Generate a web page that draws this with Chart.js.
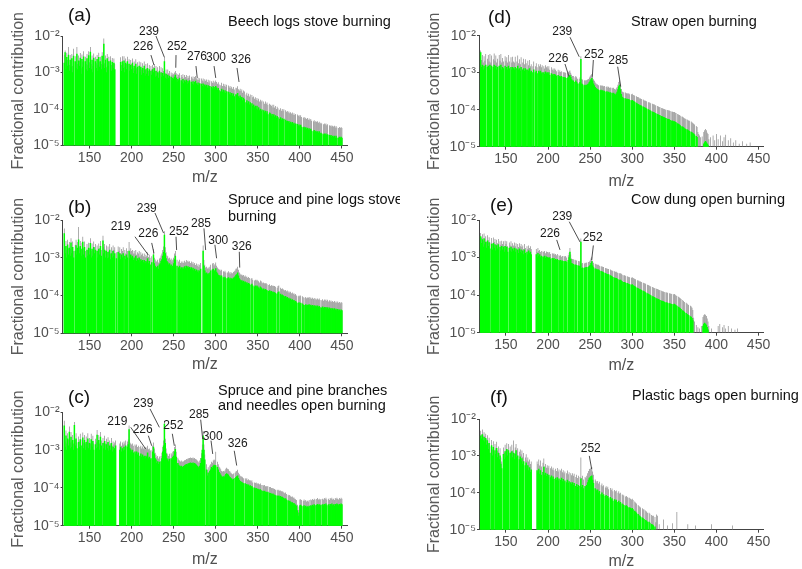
<!DOCTYPE html>
<html>
<head>
<meta charset="utf-8">
<script src="https://cdn.jsdelivr.net/npm/chart.js@4.4.1/dist/chart.umd.min.js"></script>
<style>
html,body{margin:0;padding:0;background:#fff;}
#wrap{position:relative;width:802px;height:569px;overflow:hidden;background:#fff;}
canvas{position:absolute;}
</style>
</head>
<body>
<div id="wrap"></div>
<script>
// ---------------- DATA ----------------
const mzStart = 120;               // first m/z of every series (unit step)
const xTickValues = [150, 200, 250, 300, 350, 400, 450];
const yTickValues = [1e-5, 1e-4, 1e-3, 1e-2];
const yTickLabels = ['10\u207B\u2075', '10\u207B\u2074', '10\u207B\u00B3', '10\u207B\u00B2'];

// (a) Beech logs stove burning
const beechMean = [
1.8e-3,3.5e-3,1.2e-3,2.6e-3,1.5e-3,3.0e-3,1.1e-3,2.2e-3,1.4e-3,2.4e-3,
1.0e-3,2.8e-3,null,2.0e-3,1.3e-3,3.2e-3,1.2e-3,2.1e-3,1.5e-3,2.5e-3,
9.0e-4,2.3e-3,1.4e-3,2.7e-3,null,2.0e-3,1.2e-3,2.4e-3,1.1e-3,2.9e-3,
1.3e-3,3.6e-3,1.2e-3,2.2e-3,1.0e-3,2.5e-3,null,2.0e-3,1.3e-3,2.3e-3,
1.1e-3,2.6e-3,1.4e-3,2.0e-3,1.2e-3,2.8e-3,1.6e-3,6.0e-3,1.3e-3,2.2e-3,
1.0e-3,2.4e-3,1.5e-3,2.0e-3,null,2.1e-3,1.1e-3,1.9e-3,1.3e-3,1.8e-3,
1.2e-3,null,null,null,null,null,null,1.9e-3,1.1e-3,2.0e-3,
1.3e-3,2.1e-3,1.0e-3,1.8e-3,1.2e-3,2.0e-3,null,1.7e-3,1.1e-3,1.6e-3,
1.2e-3,1.8e-3,9.5e-4,1.5e-3,1.1e-3,1.7e-3,9.0e-4,1.4e-3,null,1.5e-3,
1.0e-3,1.4e-3,8.5e-4,1.3e-3,9.5e-4,1.5e-3,8.0e-4,1.2e-3,9.0e-4,1.3e-3,
8.0e-4,1.2e-3,null,1.1e-3,8.5e-4,1.2e-3,1.0e-3,1.3e-3,7.5e-4,1.1e-3,
8.0e-4,1.0e-3,7.0e-4,1.1e-3,null,1.0e-3,7.5e-4,9.5e-4,8.0e-4,2.0e-3,
7.0e-4,9.0e-4,6.5e-4,8.5e-4,7.0e-4,8.0e-4,null,7.5e-4,6.0e-4,7.0e-4,
6.5e-4,7.5e-4,8.5e-4,7.0e-4,5.5e-4,6.5e-4,6.0e-4,7.0e-4,null,6.0e-4,
5.5e-4,6.5e-4,5.0e-4,6.0e-4,5.5e-4,6.2e-4,4.8e-4,5.8e-4,5.2e-4,6.0e-4,
null,5.5e-4,4.8e-4,5.6e-4,4.6e-4,5.4e-4,5.8e-4,5.0e-4,4.5e-4,5.2e-4,
4.4e-4,5.0e-4,null,4.8e-4,4.2e-4,4.9e-4,4.0e-4,4.6e-4,4.1e-4,4.5e-4,
3.8e-4,4.4e-4,3.7e-4,4.2e-4,null,4.0e-4,3.6e-4,4.1e-4,3.5e-4,3.9e-4,
4.2e-4,3.8e-4,3.3e-4,3.7e-4,3.2e-4,null,3.0e-4,3.5e-4,2.9e-4,3.3e-4,
2.8e-4,3.2e-4,2.7e-4,3.0e-4,null,2.9e-4,2.5e-4,2.8e-4,2.4e-4,2.7e-4,
2.3e-4,2.6e-4,2.2e-4,null,2.5e-4,2.4e-4,2.7e-4,2.2e-4,2.0e-4,2.3e-4,
1.9e-4,2.1e-4,1.7e-4,2.0e-4,1.8e-4,null,1.5e-4,1.7e-4,1.4e-4,1.6e-4,
1.3e-4,1.5e-4,null,1.4e-4,1.2e-4,1.3e-4,1.1e-4,1.2e-4,1.0e-4,1.2e-4,
9.5e-5,1.1e-4,9.0e-5,1.0e-4,8.7e-5,9.5e-5,null,9.0e-5,8.0e-5,8.8e-5,
7.5e-5,8.5e-5,7.0e-5,null,7.8e-5,7.5e-5,6.5e-5,7.2e-5,6.2e-5,7.0e-5,
6.0e-5,6.6e-5,5.6e-5,6.3e-5,5.8e-5,null,5.3e-5,5.8e-5,5.0e-5,5.5e-5,
4.8e-5,5.3e-5,null,5.0e-5,4.5e-5,4.7e-5,4.3e-5,4.6e-5,4.1e-5,4.4e-5,
4.0e-5,4.3e-5,3.8e-5,4.1e-5,3.7e-5,3.9e-5,null,3.8e-5,3.4e-5,3.7e-5,
3.3e-5,3.6e-5,3.2e-5,null,3.1e-5,3.2e-5,2.9e-5,3.1e-5,2.8e-5,3.0e-5,
2.7e-5,2.9e-5,2.6e-5,2.8e-5,2.5e-5,null,2.4e-5,2.6e-5,2.3e-5,2.5e-5,
2.3e-5,2.4e-5,2.2e-5,2.4e-5,2.1e-5,2.2e-5,2.1e-5,null,2.0e-5,2.1e-5,
2.0e-5,2.1e-5,1.9e-5,2.0e-5,null,1.9e-5,1.8e-5,1.9e-5,1.7e-5,1.8e-5,
1.7e-5,1.8e-5,1.6e-5,1.8e-5,1.6e-5,null,1.6e-5,1.7e-5,1.6e-5,1.7e-5,
1.6e-5];
const beechUpper = [
3.0e-3,4.0e-3,2.0e-3,3.5e-3,2.2e-3,5.0e-3,1.6e-3,3.0e-3,2.0e-3,3.2e-3,
1.5e-3,4.5e-3,null,2.8e-3,1.9e-3,5.0e-3,1.7e-3,2.9e-3,2.1e-3,3.4e-3,
1.3e-3,3.1e-3,2.0e-3,3.8e-3,null,2.7e-3,1.7e-3,3.2e-3,1.6e-3,3.8e-3,
1.9e-3,5.0e-3,1.7e-3,2.9e-3,1.5e-3,3.3e-3,null,2.7e-3,1.8e-3,3.0e-3,
1.6e-3,3.5e-3,2.0e-3,2.7e-3,1.7e-3,3.6e-3,2.2e-3,8.5e-3,1.8e-3,2.9e-3,
1.4e-3,3.2e-3,2.1e-3,2.7e-3,null,2.8e-3,1.6e-3,2.5e-3,1.8e-3,2.4e-3,
1.7e-3,null,null,null,null,null,null,2.6e-3,1.6e-3,2.8e-3,
1.8e-3,2.8e-3,1.4e-3,2.4e-3,1.7e-3,2.7e-3,null,2.3e-3,1.5e-3,2.2e-3,
1.7e-3,2.4e-3,1.3e-3,2.0e-3,1.5e-3,2.3e-3,1.3e-3,1.9e-3,null,2.0e-3,
1.4e-3,1.9e-3,1.2e-3,1.8e-3,1.3e-3,2.0e-3,1.1e-3,1.7e-3,1.3e-3,1.8e-3,
1.1e-3,1.6e-3,null,1.5e-3,1.2e-3,1.6e-3,1.4e-3,1.7e-3,1.1e-3,1.5e-3,
1.1e-3,1.4e-3,1.0e-3,1.5e-3,null,1.4e-3,1.0e-3,1.3e-3,1.1e-3,2.6e-3,
9.5e-4,1.2e-3,9.0e-4,1.2e-3,9.5e-4,1.1e-3,null,1.0e-3,8.5e-4,9.5e-4,
9.0e-4,1.0e-3,1.1e-3,9.5e-4,7.5e-4,9.0e-4,8.5e-4,9.5e-4,null,8.5e-4,
7.5e-4,9.0e-4,7.0e-4,8.5e-4,7.5e-4,8.5e-4,6.8e-4,8.0e-4,7.2e-4,8.3e-4,
null,7.6e-4,6.8e-4,7.8e-4,6.5e-4,7.5e-4,8.0e-4,7.0e-4,6.3e-4,7.2e-4,
6.2e-4,7.0e-4,null,6.8e-4,6.0e-4,6.9e-4,5.7e-4,6.5e-4,5.9e-4,6.4e-4,
5.5e-4,6.3e-4,5.3e-4,6.0e-4,null,5.8e-4,5.2e-4,5.9e-4,5.1e-4,5.6e-4,
6.0e-4,5.5e-4,4.9e-4,5.4e-4,4.7e-4,null,4.5e-4,5.2e-4,4.3e-4,4.9e-4,
4.3e-4,4.8e-4,4.1e-4,4.6e-4,null,4.4e-4,3.9e-4,4.3e-4,3.7e-4,4.1e-4,
3.6e-4,4.0e-4,3.4e-4,null,3.8e-4,3.7e-4,4.2e-4,3.5e-4,3.2e-4,3.6e-4,
3.1e-4,3.4e-4,2.8e-4,3.2e-4,3.0e-4,null,2.5e-4,2.8e-4,2.3e-4,2.6e-4,
2.2e-4,2.5e-4,null,2.4e-4,2.1e-4,2.2e-4,1.9e-4,2.1e-4,1.8e-4,2.0e-4,
1.7e-4,1.9e-4,1.6e-4,1.8e-4,1.6e-4,1.7e-4,null,1.6e-4,1.4e-4,1.6e-4,
1.4e-4,1.5e-4,1.3e-4,null,1.4e-4,1.3e-4,1.2e-4,1.3e-4,1.1e-4,1.3e-4,
1.1e-4,1.2e-4,1.0e-4,1.15e-4,1.05e-4,null,9.5e-5,1.05e-4,9.0e-5,1.0e-4,
9.0e-5,9.8e-5,null,9.2e-5,8.4e-5,8.8e-5,8.0e-5,8.6e-5,7.6e-5,8.2e-5,
7.5e-5,8.0e-5,7.0e-5,7.6e-5,6.9e-5,7.3e-5,null,7.1e-5,6.4e-5,6.9e-5,
6.2e-5,6.7e-5,6.0e-5,null,5.8e-5,6.0e-5,5.5e-5,5.8e-5,5.3e-5,5.7e-5,
5.1e-5,5.5e-5,4.9e-5,5.3e-5,4.8e-5,null,4.6e-5,4.9e-5,4.4e-5,4.7e-5,
4.4e-5,4.6e-5,4.2e-5,4.5e-5,4.0e-5,4.2e-5,4.0e-5,null,3.8e-5,4.0e-5,
3.8e-5,4.0e-5,3.6e-5,3.8e-5,null,3.6e-5,3.4e-5,3.6e-5,3.3e-5,3.5e-5,
3.3e-5,3.5e-5,3.1e-5,3.4e-5,3.1e-5,null,3.0e-5,3.2e-5,3.0e-5,3.2e-5,
3.0e-5];

// (b) Spruce and pine logs stove burning
const spruceLogsMean = [
4.4e-3,1.3e-3,2.0e-3,1.0e-3,2.2e-3,1.2e-3,1.8e-3,1.1e-3,2.5e-3,1.3e-3,
1.9e-3,1.0e-3,null,1.5e-3,2.1e-3,1.2e-3,1.8e-3,3.0e-3,1.3e-3,2.0e-3,
1.1e-3,1.7e-3,2.6e-3,1.2e-3,1.9e-3,1.0e-3,null,1.6e-3,1.1e-3,1.8e-3,
1.2e-3,2.4e-3,1.0e-3,1.7e-3,1.1e-3,1.9e-3,1.3e-3,1.6e-3,null,1.5e-3,
1.0e-3,1.7e-3,1.2e-3,2.0e-3,1.1e-3,null,2.8e-3,1.3e-3,1.6e-3,1.0e-3,
1.5e-3,9.5e-4,1.4e-3,1.0e-3,1.6e-3,9.0e-4,1.3e-3,1.0e-3,1.5e-3,1.1e-3,
1.3e-3,null,9.5e-4,null,1.4e-3,1.0e-3,1.3e-3,9.0e-4,1.2e-3,1.0e-3,
1.3e-3,null,1.1e-3,9.0e-4,1.2e-3,1.0e-3,null,1.5e-3,9.5e-4,1.2e-3,
1.0e-3,1.1e-3,8.5e-4,1.0e-3,9.0e-4,1.1e-3,8.0e-4,9.5e-4,8.5e-4,1.0e-3,
7.5e-4,9.0e-4,8.0e-4,8.5e-4,7.5e-4,8.5e-4,7.0e-4,8.0e-4,7.5e-4,9.5e-4,
7.0e-4,8.0e-4,6.5e-4,null,7.5e-4,null,1.2e-3,7.0e-4,6.0e-4,5.5e-4,
5.5e-4,6.0e-4,5.0e-4,6.5e-4,7.0e-4,8.0e-4,9.0e-4,1.1e-3,1.4e-3,4.0e-3,
1.3e-3,9.5e-4,8.0e-4,7.5e-4,6.5e-4,7.0e-4,6.0e-4,6.5e-4,5.5e-4,6.0e-4,
7.0e-4,9.0e-4,1.1e-3,null,6.0e-4,null,5.5e-4,6.0e-4,5.0e-4,5.5e-4,
5.0e-4,5.5e-4,5.0e-4,5.8e-4,5.2e-4,6.0e-4,5.5e-4,5.8e-4,5.3e-4,5.6e-4,
5.0e-4,5.5e-4,4.8e-4,5.3e-4,4.6e-4,5.0e-4,4.4e-4,4.8e-4,4.2e-4,4.6e-4,
4.0e-4,4.5e-4,5.0e-4,null,null,1.5e-3,6.0e-4,4.5e-4,3.8e-4,4.0e-4,
3.6e-4,3.8e-4,3.5e-4,4.0e-4,4.5e-4,null,4.8e-4,5.0e-4,4.3e-4,4.6e-4,
5.2e-4,4.2e-4,3.8e-4,3.5e-4,3.3e-4,3.4e-4,3.1e-4,3.3e-4,null,3.0e-4,
2.9e-4,3.1e-4,2.8e-4,null,2.8e-4,3.0e-4,2.7e-4,2.9e-4,2.6e-4,2.8e-4,
2.7e-4,2.9e-4,3.0e-4,3.2e-4,3.5e-4,3.6e-4,4.0e-4,3.3e-4,2.8e-4,2.6e-4,
2.4e-4,2.5e-4,2.3e-4,2.4e-4,2.2e-4,2.3e-4,2.1e-4,2.2e-4,2.0e-4,2.1e-4,
2.0e-4,null,1.9e-4,2.0e-4,1.8e-4,null,1.7e-4,1.8e-4,1.7e-4,1.8e-4,
1.7e-4,1.6e-4,1.5e-4,1.7e-4,1.6e-4,1.5e-4,1.4e-4,1.5e-4,1.4e-4,1.45e-4,
1.4e-4,1.35e-4,null,1.3e-4,1.35e-4,1.25e-4,1.3e-4,1.2e-4,1.25e-4,1.2e-4,
1.2e-4,1.15e-4,null,1.1e-4,1.2e-4,1.25e-4,null,1.1e-4,1.0e-4,1.05e-4,
1.0e-4,9.5e-5,9.0e-5,9.5e-5,8.5e-5,9.0e-5,8.0e-5,8.5e-5,7.8e-5,8.2e-5,
7.5e-5,7.8e-5,7.2e-5,7.5e-5,6.8e-5,7.0e-5,6.5e-5,null,6.2e-5,6.5e-5,
6.0e-5,6.3e-5,null,6.0e-5,5.7e-5,null,5.5e-5,5.8e-5,5.4e-5,5.6e-5,
5.5e-5,5.8e-5,5.3e-5,5.6e-5,5.2e-5,5.5e-5,5.1e-5,5.4e-5,5.0e-5,5.3e-5,
5.0e-5,5.3e-5,4.9e-5,5.2e-5,4.8e-5,null,4.7e-5,5.0e-5,4.6e-5,4.9e-5,
4.7e-5,4.9e-5,4.5e-5,4.8e-5,4.4e-5,4.7e-5,4.3e-5,4.6e-5,4.2e-5,4.5e-5,
4.2e-5,4.5e-5,4.1e-5,4.4e-5,4.0e-5,4.3e-5,4.0e-5,4.2e-5,3.9e-5,4.2e-5,
4.0e-5];
const spruceLogsUpper = [
6.0e-3,2.0e-3,2.8e-3,1.6e-3,3.0e-3,1.8e-3,2.6e-3,1.7e-3,3.3e-3,1.9e-3,
2.7e-3,1.5e-3,null,2.2e-3,3.0e-3,1.8e-3,2.6e-3,6.5e-3,1.9e-3,2.8e-3,
1.6e-3,2.5e-3,3.6e-3,1.8e-3,2.7e-3,1.5e-3,null,2.3e-3,1.6e-3,2.5e-3,
1.8e-3,3.3e-3,1.5e-3,2.4e-3,1.6e-3,2.7e-3,1.9e-3,2.3e-3,null,2.1e-3,
1.5e-3,2.4e-3,1.8e-3,2.8e-3,1.6e-3,null,3.8e-3,1.9e-3,2.3e-3,1.5e-3,
2.1e-3,1.4e-3,2.0e-3,1.5e-3,2.3e-3,1.3e-3,1.9e-3,1.5e-3,2.1e-3,1.6e-3,
1.9e-3,null,1.4e-3,null,2.0e-3,1.5e-3,1.9e-3,1.3e-3,1.7e-3,1.5e-3,
1.9e-3,null,1.6e-3,1.3e-3,1.8e-3,1.5e-3,null,2.6e-3,1.4e-3,1.8e-3,
1.5e-3,1.6e-3,1.3e-3,1.5e-3,1.3e-3,1.6e-3,1.2e-3,1.4e-3,1.3e-3,1.5e-3,
1.1e-3,1.4e-3,1.2e-3,1.3e-3,1.1e-3,1.3e-3,1.05e-3,1.2e-3,1.1e-3,1.4e-3,
1.05e-3,1.2e-3,1.0e-3,null,1.1e-3,null,1.7e-3,1.0e-3,9.0e-4,8.0e-4,
8.0e-4,8.8e-4,7.5e-4,9.5e-4,1.0e-3,1.15e-3,1.3e-3,1.6e-3,2.0e-3,5.0e-3,
1.9e-3,1.4e-3,1.15e-3,1.1e-3,9.5e-4,1.0e-3,8.8e-4,9.5e-4,8.0e-4,8.8e-4,
1.0e-3,1.3e-3,1.5e-3,null,8.8e-4,null,8.0e-4,8.8e-4,7.3e-4,8.0e-4,
7.3e-4,8.0e-4,7.3e-4,8.4e-4,7.6e-4,8.7e-4,8.0e-4,8.4e-4,7.7e-4,8.1e-4,
7.3e-4,8.0e-4,7.0e-4,7.7e-4,6.7e-4,7.3e-4,6.4e-4,7.0e-4,6.1e-4,6.7e-4,
5.8e-4,6.5e-4,7.3e-4,null,null,2.1e-3,8.7e-4,6.5e-4,5.5e-4,5.8e-4,
5.2e-4,5.5e-4,5.1e-4,5.8e-4,6.5e-4,null,7.0e-4,7.3e-4,6.2e-4,6.7e-4,
7.5e-4,6.1e-4,5.5e-4,5.1e-4,4.8e-4,4.9e-4,4.5e-4,4.8e-4,null,4.4e-4,
4.2e-4,4.5e-4,4.1e-4,null,4.1e-4,4.4e-4,3.9e-4,4.2e-4,3.8e-4,4.1e-4,
3.9e-4,4.2e-4,4.4e-4,4.6e-4,5.1e-4,5.2e-4,5.8e-4,4.8e-4,4.1e-4,3.8e-4,
3.5e-4,3.6e-4,3.4e-4,3.5e-4,3.2e-4,3.4e-4,3.1e-4,3.2e-4,2.9e-4,3.1e-4,
2.9e-4,null,2.8e-4,2.9e-4,2.6e-4,null,2.5e-4,2.6e-4,2.5e-4,2.6e-4,
2.5e-4,2.4e-4,2.2e-4,2.5e-4,2.4e-4,2.2e-4,2.1e-4,2.2e-4,2.1e-4,2.1e-4,
2.1e-4,2.0e-4,null,1.9e-4,2.0e-4,1.8e-4,1.9e-4,1.8e-4,1.85e-4,1.8e-4,
1.8e-4,1.7e-4,null,1.6e-4,1.8e-4,1.85e-4,null,1.6e-4,1.5e-4,1.55e-4,
1.5e-4,1.4e-4,1.35e-4,1.4e-4,1.3e-4,1.35e-4,1.2e-4,1.3e-4,1.2e-4,1.25e-4,
1.15e-4,1.2e-4,1.1e-4,1.15e-4,1.05e-4,1.1e-4,1.0e-4,null,9.5e-5,1.0e-4,
9.5e-5,1.0e-4,null,9.5e-5,9.0e-5,null,8.7e-5,9.2e-5,8.5e-5,8.9e-5,
8.7e-5,9.2e-5,8.4e-5,8.9e-5,8.2e-5,8.7e-5,8.1e-5,8.6e-5,7.9e-5,8.4e-5,
7.9e-5,8.4e-5,7.8e-5,8.3e-5,7.6e-5,null,7.5e-5,8.0e-5,7.3e-5,7.8e-5,
7.5e-5,7.8e-5,7.2e-5,7.7e-5,7.0e-5,7.5e-5,6.9e-5,7.4e-5,6.7e-5,7.2e-5,
6.7e-5,7.2e-5,6.5e-5,7.0e-5,6.4e-5,6.9e-5,6.4e-5,6.7e-5,6.2e-5,6.7e-5,
6.4e-5];

// (c) Spruce and pine branches and needles open burning
const branchesMean = [
4.4e-3,1.2e-3,2.4e-3,1.0e-3,2.0e-3,1.3e-3,3.0e-3,1.1e-3,2.2e-3,1.2e-3,
1.8e-3,1.0e-3,4.5e-3,1.3e-3,2.0e-3,1.1e-3,null,1.6e-3,1.2e-3,1.9e-3,
null,1.3e-3,2.1e-3,1.1e-3,1.8e-3,1.0e-3,1.6e-3,1.2e-3,2.0e-3,1.1e-3,
1.5e-3,1.0e-3,1.9e-3,1.2e-3,1.7e-3,1.0e-3,null,1.4e-3,1.1e-3,2.5e-3,
1.2e-3,1.8e-3,1.0e-3,2.2e-3,1.3e-3,null,1.5e-3,1.1e-3,1.7e-3,1.0e-3,
1.4e-3,1.1e-3,1.6e-3,9.5e-4,1.3e-3,1.0e-3,1.5e-3,9.0e-4,1.2e-3,1.0e-3,
1.1e-3,1.3e-3,null,null,null,null,1.0e-3,1.2e-3,9.0e-4,1.1e-3,
9.5e-4,1.2e-3,1.0e-3,1.3e-3,null,1.2e-3,1.4e-3,3.5e-3,1.1e-3,1.0e-3,
9.0e-4,1.0e-3,8.5e-4,null,9.0e-4,8.0e-4,9.0e-4,7.5e-4,8.5e-4,null,
7.0e-4,8.0e-4,6.5e-4,7.5e-4,6.5e-4,7.0e-4,6.0e-4,7.0e-4,6.5e-4,8.5e-4,
6.0e-4,6.5e-4,5.5e-4,6.0e-4,null,9.0e-4,1.2e-3,8.0e-4,6.0e-4,5.5e-4,
4.5e-4,5.0e-4,4.2e-4,4.8e-4,null,5.0e-4,6.0e-4,9.0e-4,1.3e-3,4.9e-3,
1.5e-3,8.0e-4,6.0e-4,5.5e-4,5.0e-4,5.8e-4,null,6.0e-4,5.5e-4,6.5e-4,
7.0e-4,9.0e-4,1.05e-3,6.5e-4,null,4.5e-4,4.0e-4,3.8e-4,3.6e-4,3.8e-4,
3.6e-4,3.5e-4,3.7e-4,3.9e-4,4.0e-4,4.2e-4,4.1e-4,4.3e-4,4.4e-4,4.5e-4,
4.6e-4,4.5e-4,4.4e-4,4.6e-4,4.3e-4,4.5e-4,4.2e-4,4.0e-4,3.8e-4,3.6e-4,
3.4e-4,3.8e-4,4.5e-4,6.0e-4,1.0e-3,2.4e-3,1.0e-3,5.5e-4,null,3.0e-4,
2.1e-4,2.5e-4,null,2.8e-4,3.0e-4,3.5e-4,3.3e-4,3.8e-4,4.0e-4,3.9e-4,
3.9e-4,null,3.5e-4,3.0e-4,2.6e-4,2.4e-4,2.2e-4,2.0e-4,1.9e-4,2.0e-4,
1.9e-4,2.1e-4,2.3e-4,2.4e-4,2.3e-4,2.2e-4,2.0e-4,1.9e-4,1.8e-4,1.7e-4,
1.6e-4,1.7e-4,null,1.8e-4,1.9e-4,2.0e-4,2.1e-4,1.8e-4,1.6e-4,1.5e-4,
1.45e-4,1.4e-4,1.35e-4,1.3e-4,null,1.3e-4,1.2e-4,1.25e-4,1.15e-4,1.2e-4,
1.1e-4,1.15e-4,1.05e-4,1.1e-4,1.0e-4,null,1.0e-4,9.5e-5,9.8e-5,9.3e-5,
9.3e-5,9.0e-5,8.8e-5,9.0e-5,8.5e-5,null,8.3e-5,8.0e-5,8.2e-5,7.8e-5,
7.8e-5,7.5e-5,7.7e-5,null,7.3e-5,7.2e-5,7.0e-5,6.8e-5,7.0e-5,6.6e-5,
6.5e-5,6.3e-5,null,6.2e-5,6.0e-5,6.2e-5,5.8e-5,6.0e-5,5.6e-5,5.7e-5,
5.5e-5,5.3e-5,5.0e-5,5.2e-5,4.8e-5,null,4.6e-5,4.4e-5,4.5e-5,4.2e-5,
4.0e-5,4.1e-5,3.8e-5,3.9e-5,3.6e-5,3.5e-5,3.3e-5,2.5e-5,1.8e-5,2.2e-5,
3.4e-5,3.5e-5,3.3e-5,null,3.2e-5,3.4e-5,3.1e-5,3.3e-5,3.0e-5,3.2e-5,
3.0e-5,3.3e-5,null,3.4e-5,3.2e-5,3.5e-5,3.3e-5,3.6e-5,3.4e-5,null,
3.5e-5,3.7e-5,3.4e-5,3.6e-5,3.3e-5,3.5e-5,null,3.6e-5,3.4e-5,3.7e-5,
3.5e-5,3.8e-5,3.4e-5,null,3.6e-5,3.3e-5,3.7e-5,3.5e-5,3.8e-5,3.4e-5,
3.6e-5,3.3e-5,3.7e-5,3.5e-5,3.8e-5,3.6e-5,3.4e-5,3.7e-5,3.5e-5,3.8e-5,
3.6e-5];
const branchesUpper = [
6.0e-3,1.7e-3,3.3e-3,1.5e-3,2.8e-3,1.9e-3,4.2e-3,1.6e-3,3.0e-3,1.7e-3,
2.5e-3,1.5e-3,5.5e-3,1.9e-3,2.8e-3,1.6e-3,null,2.3e-3,1.7e-3,2.7e-3,
null,1.9e-3,2.9e-3,1.6e-3,2.5e-3,1.5e-3,2.3e-3,1.7e-3,2.8e-3,1.6e-3,
2.1e-3,1.5e-3,2.7e-3,1.7e-3,2.4e-3,1.5e-3,null,2.0e-3,1.6e-3,3.4e-3,
1.7e-3,2.5e-3,1.5e-3,3.0e-3,1.8e-3,null,2.1e-3,1.6e-3,2.4e-3,1.5e-3,
2.0e-3,1.6e-3,2.2e-3,1.4e-3,1.8e-3,1.5e-3,2.1e-3,1.3e-3,1.7e-3,1.4e-3,
1.6e-3,1.8e-3,null,null,null,null,1.5e-3,1.7e-3,1.3e-3,1.6e-3,
1.4e-3,1.7e-3,1.5e-3,1.8e-3,null,1.7e-3,1.9e-3,4.5e-3,1.6e-3,1.5e-3,
1.4e-3,1.5e-3,1.3e-3,null,1.4e-3,1.3e-3,1.4e-3,1.2e-3,1.3e-3,null,
1.2e-3,1.3e-3,1.1e-3,1.25e-3,1.1e-3,1.2e-3,1.05e-3,1.2e-3,1.1e-3,1.3e-3,
1.05e-3,1.1e-3,9.5e-4,1.0e-3,null,1.3e-3,1.6e-3,1.1e-3,8.5e-4,7.5e-4,
6.5e-4,7.0e-4,6.0e-4,6.8e-4,null,7.0e-4,8.5e-4,1.2e-3,1.8e-3,6.0e-3,
2.0e-3,1.1e-3,8.5e-4,7.8e-4,7.0e-4,8.0e-4,null,8.3e-4,7.6e-4,9.0e-4,
9.5e-4,1.2e-3,1.4e-3,9.0e-4,null,6.3e-4,5.6e-4,5.3e-4,5.0e-4,5.3e-4,
5.0e-4,4.9e-4,5.1e-4,5.4e-4,5.5e-4,5.8e-4,5.7e-4,6.0e-4,6.1e-4,6.2e-4,
6.4e-4,6.2e-4,6.1e-4,6.4e-4,6.0e-4,6.2e-4,5.8e-4,5.6e-4,5.3e-4,5.0e-4,
4.7e-4,5.3e-4,6.2e-4,8.3e-4,1.4e-3,3.2e-3,1.4e-3,7.6e-4,null,4.2e-4,
3.0e-4,3.5e-4,null,3.9e-4,4.2e-4,4.9e-4,4.6e-4,5.3e-4,5.6e-4,5.4e-4,
9.0e-4,null,4.9e-4,4.2e-4,3.6e-4,3.4e-4,3.1e-4,2.8e-4,2.7e-4,2.8e-4,
2.7e-4,2.9e-4,3.2e-4,3.4e-4,3.2e-4,3.1e-4,2.8e-4,2.7e-4,2.5e-4,2.4e-4,
2.3e-4,2.4e-4,null,2.5e-4,2.7e-4,2.8e-4,3.0e-4,2.5e-4,2.3e-4,2.1e-4,
2.0e-4,2.0e-4,1.9e-4,1.8e-4,null,1.8e-4,1.7e-4,1.8e-4,1.6e-4,1.7e-4,
1.6e-4,1.6e-4,1.5e-4,1.6e-4,1.4e-4,null,1.4e-4,1.35e-4,1.4e-4,1.3e-4,
1.3e-4,1.3e-4,1.25e-4,1.3e-4,1.2e-4,null,1.2e-4,1.15e-4,1.2e-4,1.1e-4,
1.1e-4,1.1e-4,1.1e-4,null,1.05e-4,1.05e-4,1.0e-4,9.8e-5,1.0e-4,9.5e-5,
9.3e-5,9.0e-5,null,9.0e-5,8.6e-5,9.0e-5,8.4e-5,8.6e-5,8.1e-5,8.2e-5,
7.9e-5,7.6e-5,7.2e-5,7.5e-5,6.9e-5,null,6.6e-5,6.3e-5,6.5e-5,6.0e-5,
5.8e-5,5.9e-5,5.5e-5,5.6e-5,5.2e-5,5.0e-5,4.8e-5,3.6e-5,2.6e-5,3.2e-5,
4.9e-5,5.0e-5,4.8e-5,null,4.6e-5,4.9e-5,4.5e-5,4.8e-5,4.4e-5,4.6e-5,
4.4e-5,4.8e-5,null,4.9e-5,4.7e-5,5.1e-5,4.8e-5,5.2e-5,4.9e-5,null,
5.1e-5,5.4e-5,4.9e-5,5.2e-5,4.8e-5,5.1e-5,null,5.2e-5,4.9e-5,5.4e-5,
5.1e-5,5.5e-5,4.9e-5,null,5.2e-5,4.8e-5,5.4e-5,5.1e-5,5.5e-5,4.9e-5,
5.2e-5,4.8e-5,5.4e-5,5.1e-5,5.5e-5,5.2e-5,4.9e-5,5.4e-5,5.1e-5,5.5e-5,
5.2e-5];

// (d) Straw open burning
const strawMean = [
3.5e-3,1.4e-3,1.6e-3,1.2e-3,1.5e-3,1.3e-3,1.6e-3,null,1.4e-3,1.5e-3,
1.3e-3,1.6e-3,1.2e-3,1.5e-3,null,1.4e-3,1.6e-3,1.3e-3,1.5e-3,1.2e-3,
1.4e-3,null,1.5e-3,1.3e-3,1.6e-3,1.2e-3,1.4e-3,1.3e-3,null,1.5e-3,
1.3e-3,1.4e-3,1.2e-3,1.5e-3,1.3e-3,null,1.4e-3,1.2e-3,1.4e-3,1.3e-3,
1.2e-3,1.4e-3,null,1.3e-3,1.5e-3,1.2e-3,1.3e-3,1.1e-3,1.4e-3,null,
1.2e-3,1.3e-3,1.1e-3,1.3e-3,1.2e-3,null,1.2e-3,1.1e-3,1.3e-3,1.0e-3,
1.1e-3,null,1.0e-3,1.2e-3,null,1.0e-3,1.1e-3,9.5e-4,null,1.1e-3,
1.0e-3,1.1e-3,9.5e-4,1.0e-3,null,1.0e-3,9.0e-4,1.05e-3,9.5e-4,1.0e-3,
9.0e-4,1.0e-3,8.5e-4,null,9.5e-4,8.5e-4,9.0e-4,8.0e-4,9.0e-4,8.5e-4,
8.0e-4,null,8.5e-4,7.5e-4,8.0e-4,7.5e-4,8.0e-4,null,7.5e-4,7.0e-4,
7.5e-4,7.0e-4,null,7.0e-4,7.5e-4,8.0e-4,8.5e-4,7.5e-4,6.5e-4,6.0e-4,
6.0e-4,null,5.5e-4,6.0e-4,5.5e-4,5.0e-4,null,5.0e-4,5.5e-4,2.3e-3,
5.0e-4,4.8e-4,null,4.5e-4,4.6e-4,4.4e-4,4.6e-4,4.8e-4,5.0e-4,5.5e-4,
6.0e-4,6.5e-4,7.0e-4,6.0e-4,5.0e-4,4.5e-4,4.0e-4,3.8e-4,3.6e-4,3.5e-4,
3.4e-4,null,3.3e-4,3.4e-4,3.2e-4,3.3e-4,3.1e-4,3.2e-4,null,3.0e-4,
3.1e-4,2.9e-4,3.0e-4,2.8e-4,2.9e-4,null,2.8e-4,2.7e-4,2.8e-4,2.6e-4,
2.5e-4,2.7e-4,3.0e-4,3.5e-4,4.2e-4,4.6e-4,3.5e-4,2.6e-4,2.2e-4,2.1e-4,
2.0e-4,null,2.0e-4,1.9e-4,1.95e-4,1.85e-4,1.9e-4,1.8e-4,null,1.75e-4,
1.8e-4,1.7e-4,1.65e-4,1.6e-4,null,1.5e-4,1.45e-4,1.4e-4,1.35e-4,1.3e-4,
1.3e-4,1.25e-4,null,1.2e-4,1.15e-4,1.1e-4,1.1e-4,1.05e-4,null,1.0e-4,
9.8e-5,9.5e-5,9.2e-5,null,8.8e-5,8.5e-5,8.3e-5,8.0e-5,7.8e-5,null,
7.5e-5,7.3e-5,7.0e-5,6.9e-5,null,6.6e-5,6.4e-5,6.2e-5,6.1e-5,5.9e-5,
5.8e-5,null,5.6e-5,5.5e-5,5.4e-5,5.2e-5,null,5.0e-5,4.9e-5,4.8e-5,
4.8e-5,4.6e-5,4.5e-5,null,4.2e-5,4.0e-5,3.9e-5,3.7e-5,null,3.5e-5,
3.4e-5,3.3e-5,3.1e-5,3.0e-5,null,2.9e-5,2.8e-5,2.7e-5,2.6e-5,null,
2.5e-5,2.4e-5,2.3e-5,2.2e-5,2.1e-5,null,1.9e-5,1.8e-5,null,null,
null,null,null,null,null,1.2e-5,1.3e-5,1.4e-5,1.3e-5,1.2e-5,
1.1e-5];
const strawUpper = [
4.0e-3,2.2e-3,3.0e-3,1.9e-3,2.8e-3,2.1e-3,3.2e-3,null,2.4e-3,3.0e-3,
2.0e-3,3.2e-3,1.9e-3,2.9e-3,null,2.3e-3,3.3e-3,2.1e-3,2.9e-3,1.9e-3,
2.4e-3,null,3.0e-3,2.1e-3,3.2e-3,1.9e-3,2.5e-3,2.0e-3,null,2.8e-3,
2.1e-3,2.6e-3,1.9e-3,3.0e-3,2.0e-3,null,2.6e-3,1.9e-3,2.7e-3,2.0e-3,
1.9e-3,2.7e-3,null,2.0e-3,2.9e-3,1.8e-3,2.3e-3,1.7e-3,2.6e-3,null,
1.9e-3,2.4e-3,1.7e-3,2.3e-3,1.8e-3,null,2.1e-3,1.6e-3,2.2e-3,1.5e-3,
1.7e-3,null,1.5e-3,2.0e-3,null,1.5e-3,1.8e-3,1.4e-3,null,1.7e-3,
1.5e-3,1.7e-3,1.4e-3,1.6e-3,null,1.5e-3,1.3e-3,1.6e-3,1.4e-3,1.5e-3,
1.3e-3,1.5e-3,1.2e-3,null,1.4e-3,1.2e-3,1.3e-3,1.15e-3,1.3e-3,1.2e-3,
1.1e-3,null,1.2e-3,1.05e-3,1.15e-3,1.05e-3,1.1e-3,null,1.05e-3,9.8e-4,
1.05e-3,9.8e-4,null,9.8e-4,1.05e-3,1.1e-3,1.15e-3,1.0e-3,8.8e-4,8.2e-4,
8.2e-4,null,7.5e-4,8.2e-4,7.5e-4,6.9e-4,null,6.9e-4,7.5e-4,2.8e-3,
6.8e-4,6.5e-4,null,6.2e-4,6.3e-4,6.0e-4,6.3e-4,6.5e-4,6.8e-4,7.4e-4,
8.0e-4,8.6e-4,9.2e-4,8.0e-4,6.7e-4,6.1e-4,5.4e-4,5.1e-4,4.9e-4,4.8e-4,
4.6e-4,null,4.5e-4,4.6e-4,4.4e-4,4.5e-4,4.3e-4,4.4e-4,null,4.1e-4,
4.3e-4,4.0e-4,4.2e-4,3.9e-4,4.0e-4,null,3.9e-4,3.8e-4,3.9e-4,3.6e-4,
3.5e-4,3.8e-4,4.1e-4,4.7e-4,5.6e-4,6.2e-4,4.8e-4,3.6e-4,3.1e-4,3.0e-4,
2.9e-4,null,2.9e-4,2.8e-4,2.8e-4,2.7e-4,2.8e-4,2.6e-4,null,2.6e-4,
2.7e-4,2.5e-4,2.5e-4,2.4e-4,null,2.3e-4,2.2e-4,2.2e-4,2.1e-4,2.0e-4,
2.0e-4,1.95e-4,null,1.9e-4,1.8e-4,1.75e-4,1.75e-4,1.7e-4,null,1.6e-4,
1.6e-4,1.55e-4,1.5e-4,null,1.45e-4,1.4e-4,1.4e-4,1.35e-4,1.3e-4,null,
1.25e-4,1.22e-4,1.18e-4,1.16e-4,null,1.12e-4,1.1e-4,1.06e-4,1.05e-4,1.02e-4,
1.0e-4,null,9.8e-5,9.6e-5,9.5e-5,9.2e-5,null,9.0e-5,8.8e-5,8.6e-5,
8.6e-5,8.3e-5,8.1e-5,null,7.7e-5,7.4e-5,7.2e-5,6.9e-5,null,6.6e-5,
6.4e-5,6.2e-5,5.9e-5,5.7e-5,null,5.5e-5,5.3e-5,5.1e-5,5.0e-5,null,
4.8e-5,4.6e-5,4.4e-5,4.2e-5,4.0e-5,null,3.6e-5,3.4e-5,2.5e-5,2.2e-5,
2.0e-5,1.8e-5,null,1.9e-5,null,2.5e-5,2.8e-5,3.0e-5,2.8e-5,2.4e-5,
2.2e-5,1.6e-5,null,1.8e-5,null,null,2.0e-5,null,1.5e-5,null,
2.2e-5,null,1.6e-5,null,null,2.0e-5,null,1.4e-5,null,1.8e-5,
null,2.1e-5,null,null,1.5e-5,null,null,1.7e-5,null,null,
1.3e-5,null,null,1.5e-5,null,null,null,1.2e-5,null,null,
null,1.4e-5,null,null,null,null,1.2e-5,null,null,null,
1.3e-5];

// (e) Cow dung open burning
const cowMean = [
3.6e-3,2.4e-3,3.0e-3,1.9e-3,3.2e-3,2.2e-3,2.6e-3,1.8e-3,2.8e-3,2.0e-3,
2.5e-3,1.7e-3,null,2.3e-3,1.6e-3,2.4e-3,1.8e-3,2.2e-3,1.5e-3,2.1e-3,
1.7e-3,2.2e-3,null,1.9e-3,1.5e-3,2.0e-3,1.6e-3,1.9e-3,1.4e-3,2.0e-3,
1.6e-3,1.9e-3,1.4e-3,null,1.8e-3,1.5e-3,1.9e-3,1.4e-3,1.7e-3,1.5e-3,
1.8e-3,1.4e-3,1.7e-3,null,1.6e-3,1.3e-3,1.7e-3,1.4e-3,1.6e-3,1.3e-3,
1.5e-3,1.2e-3,1.6e-3,1.3e-3,null,1.4e-3,1.2e-3,1.5e-3,1.3e-3,1.4e-3,
1.2e-3,null,null,null,null,null,1.2e-3,1.0e-3,1.3e-3,1.1e-3,
1.2e-3,1.0e-3,1.1e-3,null,1.05e-3,1.0e-3,1.1e-3,9.5e-4,1.05e-3,1.0e-3,
1.0e-3,9.5e-4,1.0e-3,9.0e-4,null,9.5e-4,9.0e-4,9.5e-4,8.5e-4,9.0e-4,
8.5e-4,9.0e-4,null,8.5e-4,8.0e-4,8.5e-4,7.8e-4,8.2e-4,null,8.0e-4,
7.6e-4,8.0e-4,7.5e-4,null,8.5e-4,1.0e-3,1.4e-3,9.0e-4,7.0e-4,6.8e-4,
6.6e-4,null,6.4e-4,6.3e-4,6.2e-4,null,6.0e-4,5.9e-4,5.8e-4,2.6e-3,
5.2e-4,5.3e-4,null,5.2e-4,5.4e-4,5.3e-4,5.5e-4,null,5.6e-4,5.8e-4,
6.2e-4,7.0e-4,7.8e-4,6.0e-4,5.4e-4,null,5.0e-4,4.9e-4,4.8e-4,4.7e-4,
4.7e-4,4.5e-4,null,4.3e-4,4.2e-4,4.1e-4,4.0e-4,null,3.8e-4,3.7e-4,
3.6e-4,3.5e-4,3.5e-4,null,3.3e-4,3.2e-4,3.1e-4,3.0e-4,null,2.9e-4,
2.8e-4,2.8e-4,2.7e-4,2.6e-4,null,2.5e-4,2.5e-4,2.4e-4,2.3e-4,null,
2.2e-4,2.2e-4,2.1e-4,null,2.05e-4,2.0e-4,1.95e-4,1.9e-4,null,1.85e-4,
1.9e-4,1.8e-4,1.75e-4,1.7e-4,1.65e-4,null,1.55e-4,1.5e-4,1.45e-4,1.4e-4,
1.38e-4,1.34e-4,null,1.28e-4,1.24e-4,1.2e-4,1.16e-4,null,1.1e-4,1.06e-4,
1.03e-4,1.0e-4,9.7e-5,null,9.2e-5,9.0e-5,8.7e-5,8.5e-5,null,8.1e-5,
7.9e-5,7.7e-5,7.5e-5,7.3e-5,null,7.0e-5,6.8e-5,6.7e-5,6.5e-5,null,
6.3e-5,6.2e-5,6.1e-5,null,6.0e-5,5.9e-5,5.8e-5,5.7e-5,null,5.6e-5,
5.8e-5,5.5e-5,5.3e-5,5.1e-5,null,4.8e-5,4.6e-5,4.4e-5,4.2e-5,null,
3.9e-5,3.7e-5,3.5e-5,null,3.3e-5,3.1e-5,3.0e-5,2.9e-5,null,2.7e-5,
2.6e-5,2.4e-5,2.1e-5,null,null,null,null,null,null,null,
null,null,null,null,1.5e-5,1.7e-5,1.8e-5,1.7e-5,1.6e-5,1.4e-5,
1.2e-5];
const cowUpper = [
4.5e-3,3.4e-3,4.2e-3,2.8e-3,4.4e-3,3.1e-3,3.7e-3,2.6e-3,3.9e-3,2.9e-3,
3.5e-3,2.5e-3,null,3.3e-3,2.3e-3,3.4e-3,2.6e-3,3.1e-3,2.2e-3,3.0e-3,
2.4e-3,3.1e-3,null,2.7e-3,2.2e-3,2.8e-3,2.3e-3,2.7e-3,2.0e-3,2.8e-3,
2.3e-3,2.7e-3,2.0e-3,null,2.5e-3,2.1e-3,2.7e-3,2.0e-3,2.4e-3,2.1e-3,
2.5e-3,2.0e-3,2.4e-3,null,2.3e-3,1.9e-3,2.4e-3,2.0e-3,2.3e-3,1.9e-3,
2.1e-3,1.7e-3,2.3e-3,1.8e-3,null,2.0e-3,1.7e-3,2.1e-3,1.8e-3,2.0e-3,
1.7e-3,null,null,null,null,null,1.7e-3,1.4e-3,1.8e-3,1.5e-3,
1.6e-3,1.4e-3,1.5e-3,null,1.45e-3,1.4e-3,1.5e-3,1.3e-3,1.45e-3,1.4e-3,
1.4e-3,1.3e-3,1.4e-3,1.25e-3,null,1.3e-3,1.25e-3,1.3e-3,1.2e-3,1.25e-3,
1.15e-3,1.25e-3,null,1.15e-3,1.1e-3,1.15e-3,1.05e-3,1.1e-3,null,1.1e-3,
1.05e-3,1.1e-3,1.0e-3,null,1.15e-3,1.35e-3,1.8e-3,1.2e-3,9.5e-4,9.2e-4,
9.0e-4,null,8.7e-4,8.5e-4,8.4e-4,null,8.1e-4,8.0e-4,7.8e-4,3.2e-3,
7.0e-4,7.2e-4,null,7.0e-4,7.3e-4,7.2e-4,7.4e-4,null,7.6e-4,7.8e-4,
8.4e-4,9.4e-4,1.05e-3,8.1e-4,7.3e-4,null,6.8e-4,6.6e-4,6.5e-4,6.4e-4,
6.4e-4,6.1e-4,null,5.9e-4,5.8e-4,5.7e-4,5.6e-4,null,5.3e-4,5.2e-4,
5.1e-4,5.0e-4,5.0e-4,null,4.8e-4,4.6e-4,4.5e-4,4.4e-4,null,4.3e-4,
4.2e-4,4.2e-4,4.0e-4,3.9e-4,null,3.8e-4,3.8e-4,3.7e-4,3.5e-4,null,
3.4e-4,3.4e-4,3.3e-4,null,3.2e-4,3.1e-4,3.05e-4,3.0e-4,null,2.9e-4,
3.0e-4,2.85e-4,2.8e-4,2.7e-4,2.65e-4,null,2.5e-4,2.45e-4,2.4e-4,2.3e-4,
2.3e-4,2.25e-4,null,2.15e-4,2.1e-4,2.05e-4,2.0e-4,null,1.9e-4,1.85e-4,
1.8e-4,1.75e-4,1.7e-4,null,1.65e-4,1.6e-4,1.56e-4,1.53e-4,null,1.47e-4,
1.45e-4,1.42e-4,1.38e-4,1.35e-4,null,1.3e-4,1.27e-4,1.25e-4,1.22e-4,null,
1.19e-4,1.17e-4,1.15e-4,null,1.13e-4,1.11e-4,1.09e-4,1.07e-4,null,1.05e-4,
1.08e-4,1.02e-4,9.8e-5,9.5e-5,null,9.0e-5,8.6e-5,8.2e-5,7.9e-5,null,
7.4e-5,7.0e-5,6.6e-5,null,6.3e-5,6.0e-5,5.7e-5,5.5e-5,null,5.2e-5,
5.0e-5,4.6e-5,4.0e-5,2.5e-5,2.0e-5,null,1.6e-5,null,1.4e-5,null,
1.3e-5,null,1.5e-5,null,2.6e-5,2.9e-5,3.1e-5,3.0e-5,2.8e-5,2.4e-5,
2.0e-5,1.5e-5,null,null,1.3e-5,null,null,null,null,null,
null,null,1.5e-5,null,1.7e-5,null,null,1.4e-5,null,1.6e-5,
null,1.3e-5,null,null,1.5e-5,null,null,null,1.3e-5,null,
null,null,1.2e-5,null,null,1.3e-5];

// (f) Plastic bags open burning
const plasticMean = [
3.5e-3,2.9e-3,3.8e-3,2.6e-3,3.2e-3,2.4e-3,3.0e-3,2.0e-3,2.6e-3,1.5e-3,
2.2e-3,1.2e-3,null,1.9e-3,1.0e-3,1.7e-3,null,1.4e-3,1.1e-3,1.6e-3,
9.0e-4,1.2e-3,8.0e-4,1.0e-3,6.0e-4,4.5e-4,null,1.1e-3,8.0e-4,1.3e-3,
9.0e-4,1.5e-3,1.0e-3,1.4e-3,null,1.2e-3,8.5e-4,1.3e-3,9.0e-4,1.2e-3,
8.0e-4,1.1e-3,1.4e-3,9.0e-4,1.0e-3,null,8.0e-4,9.5e-4,7.0e-4,8.5e-4,
6.0e-4,7.0e-4,null,5.5e-4,6.5e-4,4.5e-4,5.5e-4,4.0e-4,4.8e-4,3.6e-4,
4.2e-4,null,null,null,null,null,null,4.0e-4,3.5e-4,4.4e-4,
3.2e-4,4.0e-4,3.0e-4,null,3.6e-4,5.0e-4,3.0e-4,3.4e-4,2.8e-4,3.2e-4,
2.7e-4,3.0e-4,null,2.6e-4,2.9e-4,2.4e-4,2.7e-4,2.3e-4,null,2.5e-4,
2.2e-4,2.6e-4,2.1e-4,2.4e-4,null,2.2e-4,2.5e-4,2.0e-4,2.3e-4,1.9e-4,
2.1e-4,null,1.9e-4,2.2e-4,1.8e-4,2.0e-4,null,1.9e-4,1.7e-4,1.9e-4,
1.6e-4,1.8e-4,null,1.5e-4,1.7e-4,1.4e-4,1.6e-4,null,1.5e-4,2.4e-4,
1.4e-4,1.6e-4,1.3e-4,null,1.5e-4,1.4e-4,1.6e-4,1.9e-4,2.2e-4,2.5e-4,
2.6e-4,2.8e-4,2.9e-4,2.2e-4,1.8e-4,null,1.3e-4,1.2e-4,1.1e-4,1.2e-4,
1.0e-4,1.1e-4,null,9.0e-5,1.0e-4,8.5e-5,9.0e-5,null,8.0e-5,8.5e-5,
7.5e-5,8.0e-5,7.0e-5,null,7.5e-5,6.5e-5,7.0e-5,6.0e-5,null,6.5e-5,
6.0e-5,6.3e-5,null,5.5e-5,6.0e-5,5.2e-5,5.5e-5,null,5.0e-5,4.8e-5,
4.6e-5,null,4.4e-5,4.5e-5,4.2e-5,4.0e-5,null,4.0e-5,3.8e-5,3.6e-5,
3.8e-5,3.5e-5,null,3.2e-5,3.0e-5,2.8e-5,null,2.6e-5,2.4e-5,2.3e-5,
2.2e-5,null,2.1e-5,2.0e-5,1.9e-5,null,1.8e-5,1.7e-5,1.6e-5,null,
1.6e-5,1.5e-5,null,1.4e-5,1.35e-5,1.3e-5,null,1.2e-5];
const plasticUpper = [
4.8e-3,3.8e-3,5.2e-3,3.5e-3,4.4e-3,3.4e-3,4.0e-3,2.8e-3,3.6e-3,2.2e-3,
3.1e-3,1.8e-3,null,2.7e-3,1.5e-3,2.5e-3,null,2.1e-3,1.6e-3,2.4e-3,
1.4e-3,1.8e-3,1.2e-3,1.6e-3,9.0e-4,7.0e-4,null,1.7e-3,1.2e-3,2.0e-3,
1.4e-3,2.2e-3,1.5e-3,2.1e-3,null,1.8e-3,1.3e-3,2.0e-3,1.4e-3,2.6e-3,
1.2e-3,1.7e-3,2.1e-3,1.4e-3,1.6e-3,null,1.3e-3,1.5e-3,1.1e-3,1.4e-3,
9.5e-4,1.2e-3,null,9.0e-4,1.1e-3,7.5e-4,9.0e-4,7.0e-4,8.0e-4,6.0e-4,
7.0e-4,null,null,null,null,null,null,7.0e-4,6.0e-4,8.0e-4,
5.5e-4,7.5e-4,5.2e-4,null,6.5e-4,8.5e-4,5.2e-4,6.0e-4,4.8e-4,5.6e-4,
4.8e-4,5.4e-4,null,4.6e-4,5.2e-4,4.3e-4,4.8e-4,4.1e-4,null,4.5e-4,
3.9e-4,4.7e-4,3.8e-4,4.3e-4,null,4.0e-4,4.5e-4,3.6e-4,4.1e-4,3.4e-4,
3.8e-4,null,3.4e-4,4.0e-4,3.2e-4,3.6e-4,null,3.4e-4,3.0e-4,3.4e-4,
2.9e-4,3.3e-4,null,2.7e-4,3.1e-4,2.5e-4,2.9e-4,null,2.7e-4,9.0e-4,
2.5e-4,2.9e-4,2.3e-4,null,2.7e-4,2.5e-4,2.9e-4,3.4e-4,3.9e-4,4.4e-4,
4.5e-4,4.8e-4,5.0e-4,3.8e-4,3.1e-4,null,2.3e-4,2.1e-4,1.9e-4,2.1e-4,
1.8e-4,2.0e-4,null,1.6e-4,1.8e-4,1.5e-4,1.6e-4,null,1.4e-4,1.5e-4,
1.35e-4,1.45e-4,1.25e-4,null,1.35e-4,1.2e-4,1.3e-4,1.1e-4,null,1.2e-4,
1.1e-4,1.15e-4,null,1.0e-4,1.1e-4,9.5e-5,1.0e-4,null,9.0e-5,8.8e-5,
8.4e-5,null,8.0e-5,8.2e-5,7.7e-5,7.3e-5,null,7.3e-5,6.9e-5,6.6e-5,
6.9e-5,6.4e-5,null,5.8e-5,5.5e-5,5.1e-5,null,4.7e-5,4.4e-5,4.2e-5,
4.0e-5,null,3.8e-5,3.6e-5,3.5e-5,null,3.3e-5,3.1e-5,2.9e-5,null,
2.9e-5,2.7e-5,null,2.5e-5,2.4e-5,2.4e-5,null,2.2e-5,1.6e-5,2.6e-5,
2.4e-5,null,1.4e-5,null,null,null,null,1.9e-5,null,null,
null,null,1.3e-5,null,null,null,null,null,1.5e-5,null,
null,null,null,3.0e-5,null,null,null,null,null,null,
null,null,null,null,null,null,1.4e-5,null,null,null,
null,null,null,null,null,1.3e-5,null,null,null,null,
null,null,null,null,null,null,null,null,null,null,
null,null,null,null,1.4e-5,null,null,null,null,null,
null,null,null,null,null,null,null,null,null,null,
null,null,null,null,null,null,null,null,null,1.3e-5];

// Peak annotations: label text, label centre (lx, ly), leader line start (sx, sy) and end (ex, ey) in data units
const beechNotes = [
  {t:'239', lx:220.7, ly:1.29e-2, sx:229, sy:1.0e-2, ex:239, ey:2.6e-3},
  {t:'226', lx:213.6, ly:5.0e-3, sx:223, sy:3.0e-3, ex:226.6, ey:1.6e-3},
  {t:'252', lx:254, ly:5.0e-3, sx:252.8, sy:3.0e-3, ex:252.5, ey:1.35e-3},
  {t:'276', lx:277.7, ly:2.66e-3, sx:276.5, sy:1.5e-3, ex:278, ey:7.1e-4},
  {t:'300', lx:300.3, ly:2.6e-3, sx:298, sy:1.5e-3, ex:300, ey:7.1e-4},
  {t:'326', lx:330, ly:2.3e-3, sx:325.3, sy:1.33e-3, ex:327.7, ey:5.5e-4}];
const spruceLogsNotes = [
  {t:'239', lx:218, ly:2.04e-2, sx:227.8, sy:1.53e-2, ex:238, ey:4.5e-3},
  {t:'219', lx:187, ly:6.6e-3, sx:204, sy:3.6e-3, ex:219.9, ey:1.18e-3},
  {t:'226', lx:219.9, ly:4.45e-3, sx:223.9, sy:2.47e-3, ex:226.6, ey:1.31e-3},
  {t:'252', lx:256.3, ly:4.9e-3, sx:252.8, sy:3.6e-3, ex:253.5, ey:1.6e-3},
  {t:'285', lx:282.5, ly:8.2e-3, sx:286, sy:6.0e-3, ex:288, ey:1.6e-3},
  {t:'300', lx:303, ly:2.8e-3, sx:299, sy:2.2e-3, ex:301, ey:9.7e-4},
  {t:'326', lx:330.9, ly:1.96e-3, sx:328, sy:1.44e-3, ex:328.5, ey:5.5e-4}];
const branchesNotes = [
  {t:'239', lx:213.9, ly:1.66e-2, sx:221.9, sy:1.23e-2, ex:233, ey:4.0e-3},
  {t:'219', lx:183, ly:5.6e-3, sx:199, sy:4.0e-3, ex:216.8, ey:1.07e-3},
  {t:'226', lx:213.2, ly:3.47e-3, sx:219.9, sy:2.4e-3, ex:223.9, ey:1.3e-3},
  {t:'252', lx:249.6, ly:4.3e-3, sx:248.4, sy:2.7e-3, ex:250.8, ey:1.3e-3},
  {t:'285', lx:280.1, ly:8.5e-3, sx:282.1, sy:6.4e-3, ex:284.5, ey:1.96e-3},
  {t:'300', lx:296.4, ly:2.3e-3, sx:294.4, sy:1.78e-3, ex:296.4, ey:7.9e-4},
  {t:'326', lx:326.1, ly:1.45e-3, sx:322, sy:9.6e-4, ex:324.9, ey:3.9e-4}];
const strawNotes = [
  {t:'239', lx:216.9, ly:1.28e-2, sx:226.1, sy:9.1e-3, ex:237, ey:2.7e-3},
  {t:'226', lx:212.2, ly:2.45e-3, sx:220.1, sy:1.72e-3, ex:224.9, ey:7.8e-4},
  {t:'252', lx:254.6, ly:3.0e-3, sx:253.8, sy:2.2e-3, ex:252.6, ey:7.8e-4},
  {t:'285', lx:283.4, ly:2.1e-3, sx:282.7, sy:1.45e-3, ex:286.3, ey:4.2e-4}];
const cowNotes = [
  {t:'239', lx:216.9, ly:1.23e-2, sx:225.2, sy:9.0e-3, ex:238, ey:2.6e-3},
  {t:'226', lx:202.3, ly:4.4e-3, sx:210.3, sy:2.95e-3, ex:214.2, ey:1.6e-3},
  {t:'252', lx:253, ly:3.3e-3, sx:253.8, sy:2.1e-3, ex:251.8, ey:8.6e-4}];
const plasticNotes = [
  {t:'252', lx:250.7, ly:1.54e-3, sx:249, sy:1.0e-3, ex:251.8, ey:4.4e-4}];

// ---------------- LAYOUT (canvas-relative pixels) ----------------
const FONT = '"Liberation Sans", Arial, Helvetica, sans-serif';
Chart.defaults.font.family = FONT;

const panels = [
  {left:0, top:0, w:400, h:200, plotL:62.6, plotR:347, plotT:36, plotB:145.5, xTitleY:178, yTitleX:19,
   mean:beechMean, upper:beechUpper, notes:beechNotes, letter:'(a)', letterX:68, letterY:21,
   lines:['Beech logs stove burning'], titleX:228, titleY:[25.5]},
  {left:0, top:190, w:400, h:200, plotL:62.6, plotR:347, plotT:30, plotB:143.3, xTitleY:175, yTitleX:19,
   mean:spruceLogsMean, upper:spruceLogsUpper, notes:spruceLogsNotes, letter:'(b)', letterX:68, letterY:23,
   lines:['Spruce and pine logs stove', 'burning'], titleX:228, titleY:[13.7, 30.5]},
  {left:0, top:379, w:400, h:200, plotL:62.6, plotR:347, plotT:33.3, plotB:146.7, xTitleY:181, yTitleX:19,
   mean:branchesMean, upper:branchesUpper, notes:branchesNotes, letter:'(c)', letterX:68, letterY:24,
   lines:['Spruce and pine branches', 'and needles open burning'], titleX:218, titleY:[15.5, 30.5]},
  {left:400, top:0, w:402, h:200, plotL:79, plotR:363.6, plotT:35.7, plotB:146.7, xTitleY:181.7, yTitleX:35,
   mean:strawMean, upper:strawUpper, notes:strawNotes, letter:'(d)', letterX:88, letterY:23,
   lines:['Straw open burning'], titleX:231, titleY:[25.5]},
  {left:400, top:190, w:402, h:200, plotL:79, plotR:363.6, plotT:30, plotB:142.7, xTitleY:176, yTitleX:35,
   mean:cowMean, upper:cowUpper, notes:cowNotes, letter:'(e)', letterX:90, letterY:21,
   lines:['Cow dung open burning'], titleX:231, titleY:[13.7]},
  {left:400, top:379, w:402, h:200, plotL:79, plotR:363.6, plotT:40, plotB:150.7, xTitleY:182.5, yTitleX:35,
   mean:plasticMean, upper:plasticUpper, notes:plasticNotes, letter:'(f)', letterX:90, letterY:24,
   lines:['Plastic bags open burning'], titleX:232, titleY:[20.5]}
];

function toPoints(arr) {
  return arr.map((v, i) => ({x: mzStart + i, y: v}));
}

function textPlugin(p) {
  return {
    id: 'panelText',
    afterDraw(chart) {
      const ctx = chart.ctx;
      const xs = chart.scales.x, ys = chart.scales.y;
      ctx.save();
      // annotations
      ctx.strokeStyle = '#3a3a3a';
      ctx.lineWidth = 0.9;
      ctx.fillStyle = '#1a1a1a';
      ctx.font = '12px ' + FONT;
      ctx.textAlign = 'center';
      ctx.textBaseline = 'middle';
      p.notes.forEach(n => {
        ctx.beginPath();
        ctx.moveTo(xs.getPixelForValue(n.sx), ys.getPixelForValue(n.sy));
        ctx.lineTo(xs.getPixelForValue(n.ex), ys.getPixelForValue(n.ey));
        ctx.stroke();
        ctx.fillText(n.t, xs.getPixelForValue(n.lx), ys.getPixelForValue(n.ly));
      });
      // panel letter and title
      ctx.textAlign = 'left';
      ctx.textBaseline = 'alphabetic';
      ctx.fillStyle = '#111';
      ctx.font = '19px ' + FONT;
      ctx.fillText(p.letter, p.letterX, p.letterY);
      ctx.font = '14.5px ' + FONT;
      p.lines.forEach((t, i) => ctx.fillText(t, p.titleX, p.titleY[i]));
      ctx.restore();
    }
  };
}

function makePanel(p) {
  const canvas = document.createElement('canvas');
  canvas.width = p.w; canvas.height = p.h;
  canvas.style.left = p.left + 'px';
  canvas.style.top = p.top + 'px';
  canvas.style.width = p.w + 'px';
  canvas.style.height = p.h + 'px';
  document.getElementById('wrap').appendChild(canvas);
  const half = 9.6;                       // half line height of 16px axis titles
  const yW = p.plotL - p.yTitleX + half;  // y-axis box width
  const xH = p.xTitleY + half - p.plotB;  // x-axis box height
  new Chart(canvas, {
    type: 'bar',
    data: {
      datasets: [
        {label: 'Mean', data: toPoints(p.mean), backgroundColor: '#00ff00', borderWidth: 0,
         barPercentage: 1.0, categoryPercentage: 1.0, grouped: false},
        {label: 'Upper error', data: toPoints(p.upper), backgroundColor: '#858585', borderWidth: 0,
         barPercentage: 0.8, categoryPercentage: 1.0, grouped: false}
      ]
    },
    options: {
      responsive: false,
      animation: false,
      devicePixelRatio: 1,
      layout: {autoPadding: false,
        padding: {left: p.plotL - yW, right: p.w - p.plotR, top: p.plotT, bottom: p.h - p.plotB - xH}},
      plugins: {legend: {display: false}, tooltip: {enabled: false}, title: {display: false}},
      scales: {
        x: {
          type: 'linear', min: 118, max: 456, offset: false,
          afterBuildTicks: s => { s.ticks = xTickValues.map(v => ({value: v})); },
          afterFit: s => { s.height = xH; },
          ticks: {autoSkip: false, maxRotation: 0, minRotation: 0, color: '#505050',
                  font: {size: 14}, padding: 1, callback: v => String(v)},
          grid: {display: true, drawOnChartArea: false, drawTicks: true, tickLength: 3,
                 color: '#444', offset: false},
          border: {display: true, color: '#444', width: 1},
          title: {display: true, text: 'm/z', color: '#505050', font: {size: 16}, padding: 0}
        },
        y: {
          type: 'logarithmic', min: 1e-5, max: 1e-2,
          afterBuildTicks: s => { s.ticks = yTickValues.map(v => ({value: v})); },
          afterFit: s => { s.width = yW; },
          ticks: {autoSkip: false, color: '#505050', font: {size: 14}, padding: 1,
                  callback: (v, i) => yTickLabels[i]},
          grid: {display: true, drawOnChartArea: false, drawTicks: true, tickLength: 2, color: '#444'},
          border: {display: true, color: '#444', width: 1},
          title: {display: true, text: 'Fractional contribution', color: '#5a5a5a',
                  font: {size: 16}, padding: 0}
        }
      }
    },
    plugins: [textPlugin(p)]
  });
}

panels.forEach(makePanel);
</script>
</body>
</html>
